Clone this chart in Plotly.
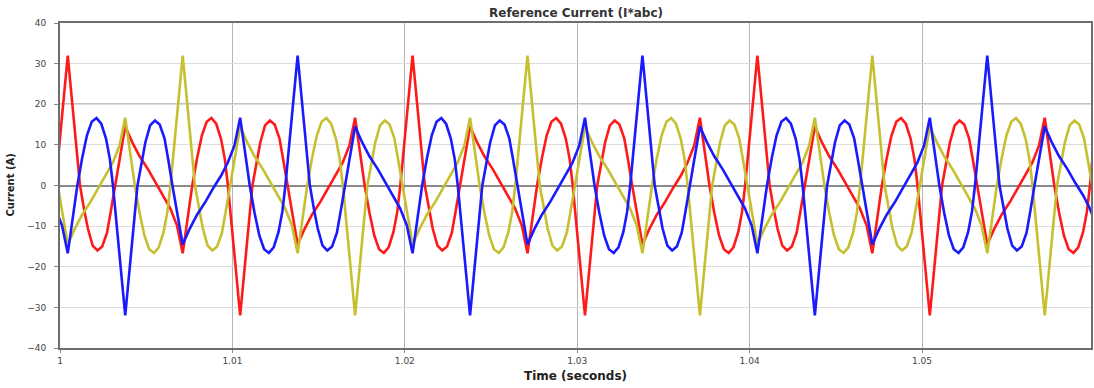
import plotly.graph_objects as go

chart_title = "Reference Current (I*abc)"
x_title = "Time (seconds)"
y_title = "Current (A)"
x_ticks = [1, 1.01, 1.02, 1.03, 1.04, 1.05]
x_tick_labels = ["1", "1.01", "1.02", "1.03", "1.04", "1.05"]
y_ticks = [40, 30, 20, 10, 0, -10, -20, -30, -40]
x_range = [1.0, 1.0598]
y_range = [-40, 40]

# Phase a (red): time in ms after t = 1 s, current in A
ia_t_ms = [
    -0.439, -0.261,
    0.450, 1.161, 1.394, 1.617, 1.894, 2.172, 2.450, 2.728, 2.950, 3.189, 3.783, 4.172, 4.617, 5.117, 5.561, 6.006, 6.394, 6.783, 7.117, 7.672, 7.950, 8.228, 8.506, 8.783, 9.061, 9.339, 9.561, 9.739,
    10.450, 11.161, 11.394, 11.617, 11.894, 12.172, 12.450, 12.728, 12.950, 13.189, 13.783, 14.172, 14.617, 15.117, 15.561, 16.006, 16.394, 16.783, 17.117, 17.672, 17.950, 18.228, 18.506, 18.783, 19.061, 19.339, 19.561, 19.739,
    20.450, 21.161, 21.394, 21.617, 21.894, 22.172, 22.450, 22.728, 22.950, 23.189, 23.783, 24.172, 24.617, 25.117, 25.561, 26.006, 26.394, 26.783, 27.117, 27.672, 27.950, 28.228, 28.506, 28.783, 29.061, 29.339, 29.561, 29.739,
    30.450, 31.161, 31.394, 31.617, 31.894, 32.172, 32.450, 32.728, 32.950, 33.189, 33.783, 34.172, 34.617, 35.117, 35.561, 36.006, 36.394, 36.783, 37.117, 37.672, 37.950, 38.228, 38.506, 38.783, 39.061, 39.339, 39.561, 39.739,
    40.450, 41.161, 41.394, 41.617, 41.894, 42.172, 42.450, 42.728, 42.950, 43.189, 43.783, 44.172, 44.617, 45.117, 45.561, 46.006, 46.394, 46.783, 47.117, 47.672, 47.950, 48.228, 48.506, 48.783, 49.061, 49.339, 49.561, 49.739,
    50.450, 51.161, 51.394, 51.617, 51.894, 52.172, 52.450, 52.728, 52.950, 53.189, 53.783, 54.172, 54.617, 55.117, 55.561, 56.006, 56.394, 56.783, 57.117, 57.672, 57.950, 58.228, 58.506, 58.783, 59.061, 59.339, 59.561, 59.739,
    60.450,
]
ia = [
    -11.5, 0,
    32, 0, -5.8, -10.6, -14.8, -16.0, -15.0, -11.6, -6.3, 0, 14.5, 10.8, 7.2, 3.9, 0.6, -2.4, -5.6, -9.8, -16.7, 0, 6.7, 12.3, 15.7, 16.6, 15.2, 11.5, 6.5, 0,
    -32, 0, 5.8, 10.6, 14.8, 16.0, 15.0, 11.6, 6.3, 0, -14.5, -10.8, -7.2, -3.9, -0.6, 2.4, 5.6, 9.8, 16.7, 0, -6.7, -12.3, -15.7, -16.6, -15.2, -11.5, -6.5, 0,
    32, 0, -5.8, -10.6, -14.8, -16.0, -15.0, -11.6, -6.3, 0, 14.5, 10.8, 7.2, 3.9, 0.6, -2.4, -5.6, -9.8, -16.7, 0, 6.7, 12.3, 15.7, 16.6, 15.2, 11.5, 6.5, 0,
    -32, 0, 5.8, 10.6, 14.8, 16.0, 15.0, 11.6, 6.3, 0, -14.5, -10.8, -7.2, -3.9, -0.6, 2.4, 5.6, 9.8, 16.7, 0, -6.7, -12.3, -15.7, -16.6, -15.2, -11.5, -6.5, 0,
    32, 0, -5.8, -10.6, -14.8, -16.0, -15.0, -11.6, -6.3, 0, 14.5, 10.8, 7.2, 3.9, 0.6, -2.4, -5.6, -9.8, -16.7, 0, 6.7, 12.3, 15.7, 16.6, 15.2, 11.5, 6.5, 0,
    -32, 0, 5.8, 10.6, 14.8, 16.0, 15.0, 11.6, 6.3, 0, -14.5, -10.8, -7.2, -3.9, -0.6, 2.4, 5.6, 9.8, 16.7, 0, -6.7, -12.3, -15.7, -16.6, -15.2, -11.5, -6.5, 0,
    32,
]

# Phase b (yellow)
ib_t_ms = [
    -0.383, -0.144, 0.450, 0.839, 1.284, 1.784, 2.228, 2.673, 3.061, 3.450, 3.784, 4.339, 4.617, 4.895, 5.173, 5.450, 5.728, 6.006, 6.228, 6.406,
    7.117, 7.828, 8.061, 8.284, 8.561, 8.839, 9.117, 9.395, 9.617, 9.856, 10.450, 10.839, 11.284, 11.784, 12.228, 12.673, 13.061, 13.450, 13.784, 14.339, 14.617, 14.895, 15.173, 15.450, 15.728, 16.006, 16.228, 16.406,
    17.117, 17.828, 18.061, 18.284, 18.561, 18.839, 19.117, 19.395, 19.617, 19.856, 20.450, 20.839, 21.284, 21.784, 22.228, 22.673, 23.061, 23.450, 23.784, 24.339, 24.617, 24.895, 25.173, 25.450, 25.728, 26.006, 26.228, 26.406,
    27.117, 27.828, 28.061, 28.284, 28.561, 28.839, 29.117, 29.395, 29.617, 29.856, 30.450, 30.839, 31.284, 31.784, 32.228, 32.673, 33.061, 33.450, 33.784, 34.339, 34.617, 34.895, 35.173, 35.450, 35.728, 36.006, 36.228, 36.406,
    37.117, 37.828, 38.061, 38.284, 38.561, 38.839, 39.117, 39.395, 39.617, 39.856, 40.450, 40.839, 41.284, 41.784, 42.228, 42.673, 43.061, 43.450, 43.784, 44.339, 44.617, 44.895, 45.173, 45.450, 45.728, 46.006, 46.228, 46.406,
    47.117, 47.828, 48.061, 48.284, 48.561, 48.839, 49.117, 49.395, 49.617, 49.856, 50.450, 50.839, 51.284, 51.784, 52.228, 52.673, 53.061, 53.450, 53.784, 54.339, 54.617, 54.895, 55.173, 55.450, 55.728, 56.006, 56.228, 56.406,
    57.117, 57.828, 58.061, 58.284, 58.561, 58.839, 59.117, 59.395, 59.617, 59.856, 60.450,
]
ib = [
    6.3, 0, -14.5, -10.8, -7.2, -3.9, -0.6, 2.4, 5.6, 9.8, 16.7, 0, -6.7, -12.3, -15.7, -16.6, -15.2, -11.5, -6.5, 0,
    32, 0, -5.8, -10.6, -14.8, -16.0, -15.0, -11.6, -6.3, 0, 14.5, 10.8, 7.2, 3.9, 0.6, -2.4, -5.6, -9.8, -16.7, 0, 6.7, 12.3, 15.7, 16.6, 15.2, 11.5, 6.5, 0,
    -32, 0, 5.8, 10.6, 14.8, 16.0, 15.0, 11.6, 6.3, 0, -14.5, -10.8, -7.2, -3.9, -0.6, 2.4, 5.6, 9.8, 16.7, 0, -6.7, -12.3, -15.7, -16.6, -15.2, -11.5, -6.5, 0,
    32, 0, -5.8, -10.6, -14.8, -16.0, -15.0, -11.6, -6.3, 0, 14.5, 10.8, 7.2, 3.9, 0.6, -2.4, -5.6, -9.8, -16.7, 0, 6.7, 12.3, 15.7, 16.6, 15.2, 11.5, 6.5, 0,
    -32, 0, 5.8, 10.6, 14.8, 16.0, 15.0, 11.6, 6.3, 0, -14.5, -10.8, -7.2, -3.9, -0.6, 2.4, 5.6, 9.8, 16.7, 0, -6.7, -12.3, -15.7, -16.6, -15.2, -11.5, -6.5, 0,
    32, 0, -5.8, -10.6, -14.8, -16.0, -15.0, -11.6, -6.3, 0, 14.5, 10.8, 7.2, 3.9, 0.6, -2.4, -5.6, -9.8, -16.7, 0, 6.7, 12.3, 15.7, 16.6, 15.2, 11.5, 6.5, 0,
    -32, 0, 5.8, 10.6, 14.8, 16.0, 15.0, 11.6, 6.3, 0, -14.5,
]

# Phase c (blue)
ic_t_ms = [
    -0.661, -0.273, 0.116, 0.450, 1.005, 1.283, 1.561, 1.839, 2.116, 2.394, 2.672, 2.894, 3.072,
    3.783, 4.494, 4.727, 4.950, 5.227, 5.505, 5.783, 6.061, 6.283, 6.522, 7.116, 7.505, 7.950, 8.450, 8.894, 9.339, 9.727, 10.116, 10.450, 11.005, 11.283, 11.561, 11.839, 12.116, 12.394, 12.672, 12.894, 13.072,
    13.783, 14.494, 14.727, 14.950, 15.227, 15.505, 15.783, 16.061, 16.283, 16.522, 17.116, 17.505, 17.950, 18.450, 18.894, 19.339, 19.727, 20.116, 20.450, 21.005, 21.283, 21.561, 21.839, 22.116, 22.394, 22.672, 22.894, 23.072,
    23.783, 24.494, 24.727, 24.950, 25.227, 25.505, 25.783, 26.061, 26.283, 26.522, 27.116, 27.505, 27.950, 28.450, 28.894, 29.339, 29.727, 30.116, 30.450, 31.005, 31.283, 31.561, 31.839, 32.116, 32.394, 32.672, 32.894, 33.072,
    33.783, 34.494, 34.727, 34.950, 35.227, 35.505, 35.783, 36.061, 36.283, 36.522, 37.116, 37.505, 37.950, 38.450, 38.894, 39.339, 39.727, 40.116, 40.450, 41.005, 41.283, 41.561, 41.839, 42.116, 42.394, 42.672, 42.894, 43.072,
    43.783, 44.494, 44.727, 44.950, 45.227, 45.505, 45.783, 46.061, 46.283, 46.522, 47.116, 47.505, 47.950, 48.450, 48.894, 49.339, 49.727, 50.116, 50.450, 51.005, 51.283, 51.561, 51.839, 52.116, 52.394, 52.672, 52.894, 53.072,
    53.783, 54.494, 54.727, 54.950, 55.227, 55.505, 55.783, 56.061, 56.283, 56.522, 57.116, 57.505, 57.950, 58.450, 58.894, 59.339, 59.727, 60.116,
]
ic = [
    -2.4, -5.6, -9.8, -16.7, 0, 6.7, 12.3, 15.7, 16.6, 15.2, 11.5, 6.5, 0,
    -32, 0, 5.8, 10.6, 14.8, 16.0, 15.0, 11.6, 6.3, 0, -14.5, -10.8, -7.2, -3.9, -0.6, 2.4, 5.6, 9.8, 16.7, 0, -6.7, -12.3, -15.7, -16.6, -15.2, -11.5, -6.5, 0,
    32, 0, -5.8, -10.6, -14.8, -16.0, -15.0, -11.6, -6.3, 0, 14.5, 10.8, 7.2, 3.9, 0.6, -2.4, -5.6, -9.8, -16.7, 0, 6.7, 12.3, 15.7, 16.6, 15.2, 11.5, 6.5, 0,
    -32, 0, 5.8, 10.6, 14.8, 16.0, 15.0, 11.6, 6.3, 0, -14.5, -10.8, -7.2, -3.9, -0.6, 2.4, 5.6, 9.8, 16.7, 0, -6.7, -12.3, -15.7, -16.6, -15.2, -11.5, -6.5, 0,
    32, 0, -5.8, -10.6, -14.8, -16.0, -15.0, -11.6, -6.3, 0, 14.5, 10.8, 7.2, 3.9, 0.6, -2.4, -5.6, -9.8, -16.7, 0, 6.7, 12.3, 15.7, 16.6, 15.2, 11.5, 6.5, 0,
    -32, 0, 5.8, 10.6, 14.8, 16.0, 15.0, 11.6, 6.3, 0, -14.5, -10.8, -7.2, -3.9, -0.6, 2.4, 5.6, 9.8, 16.7, 0, -6.7, -12.3, -15.7, -16.6, -15.2, -11.5, -6.5, 0,
    32, 0, -5.8, -10.6, -14.8, -16.0, -15.0, -11.6, -6.3, 0, 14.5, 10.8, 7.2, 3.9, 0.6, -2.4, -5.6, -9.8,
]

series = [
    ("I*a", ia_t_ms, ia, "#ff1a1a"),
    ("I*b", ib_t_ms, ib, "#c6c030"),
    ("I*c", ic_t_ms, ic, "#1a1aff"),
]

fig = go.Figure()
for name, t_ms, vals, color in series:
    fig.add_trace(go.Scatter(
        x=[1 + v / 1000.0 for v in t_ms], y=vals, mode="lines", name=name,
        line=dict(color=color, width=2.6), showlegend=False, hoverinfo="skip",
    ))

# darker horizontal reference line at +20 (as in the scope display)
fig.add_shape(type="line", xref="paper", x0=0, x1=1, yref="y", y0=20, y1=20,
              line=dict(color="#8a8a8a", width=1.5), layer="below")

tick_font = dict(family="DejaVu Sans", size=9, color="#444444")
fig.update_layout(
    width=1094, height=388,
    margin=dict(l=60, r=1, t=23, b=40),
    paper_bgcolor="white", plot_bgcolor="white",
    showlegend=False,
    annotations=[
        dict(text="<b>" + chart_title + "</b>", xref="paper", yref="paper", x=0.5, y=1,
             yshift=10, xanchor="center", yanchor="middle", showarrow=False,
             font=dict(family="DejaVu Sans", size=12, color="#333333")),
        dict(text="<b>" + x_title + "</b>", xref="paper", yref="paper", x=0.5, y=0,
             yshift=-28, xanchor="center", yanchor="middle", showarrow=False,
             font=dict(family="DejaVu Sans", size=12, color="#222222")),
        dict(text="<b>" + y_title + "</b>", xref="paper", yref="paper", x=0, y=0.5,
             xshift=-50, xanchor="center", yanchor="middle", showarrow=False, textangle=-90,
             font=dict(family="DejaVu Sans", size=10, color="#222222")),
    ],
)
fig.update_xaxes(
    range=x_range, tickvals=x_ticks, ticktext=x_tick_labels, tickfont=tick_font,
    showgrid=True, gridcolor="#b5b5b5", gridwidth=1,
    showline=True, linecolor="#6e6e6e", linewidth=2, mirror=True,
    ticks="outside", ticklen=3, tickcolor="#888888", zeroline=False,
)
fig.update_yaxes(
    range=y_range, tickvals=y_ticks, tickfont=tick_font,
    showgrid=True, gridcolor="#dcdcdc", gridwidth=1.2,
    zeroline=True, zerolinecolor="#8a8a8a", zerolinewidth=1.5,
    showline=True, linecolor="#6e6e6e", linewidth=2, mirror=True,
    ticks="outside", ticklen=4, tickcolor="#888888", ticklabelstandoff=6,
)

fig.write_html("out.html", config={"displayModeBar": False},
               post_script="document.body.style.margin='0px';")
